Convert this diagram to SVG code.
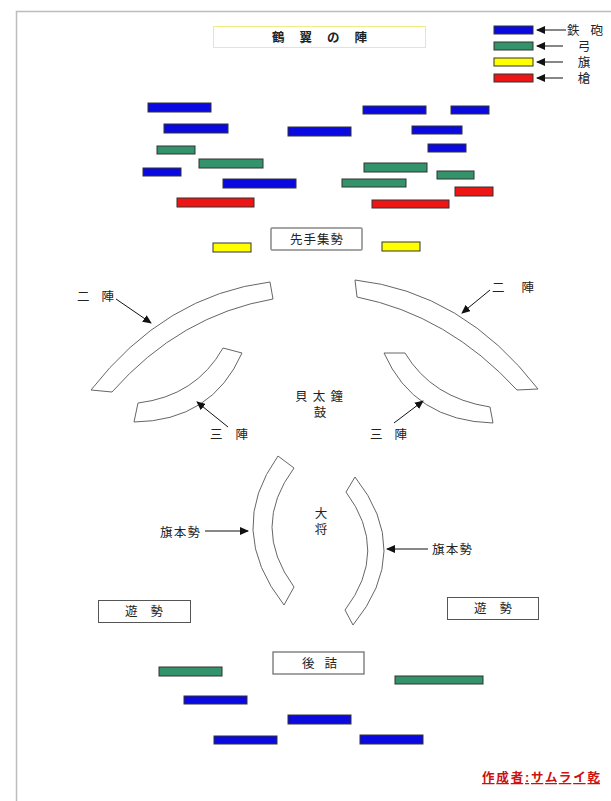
<svg xmlns="http://www.w3.org/2000/svg" width="611" height="801" viewBox="0 0 611 801">
<style>
text{font-family:"Liberation Sans","Noto Sans CJK JP",sans-serif;fill:#222;font-size:12.5px}
.bar{stroke:#333;stroke-width:1}
.b{fill:#0a0ae0}
.g{fill:#33936a}
.y{fill:#ffff00}
.r{fill:#ee1515}
.arc{fill:#fff;stroke:#666;stroke-width:1}
.box{fill:#fff;stroke:#555;stroke-width:1}
.conn line{stroke:#111;stroke-width:1;marker-end:url(#ah)}
.mid{text-anchor:middle}
</style>
<defs>
<marker id="ah" markerUnits="userSpaceOnUse" markerWidth="9" markerHeight="8" refX="8" refY="4" orient="auto">
<path d="M0,0 L9,4 L0,8 Z" fill="#111"/>
</marker>
</defs>
<rect width="611" height="801" fill="#fff"/>
<path d="M16.5,801 V11.5 H611" fill="none" stroke="#bdbdbd" stroke-width="1.5"/>

<g id="title">
<rect x="213.5" y="26.5" width="212" height="21" fill="#fff" stroke="#eeee80" stroke-width="1"/>
<text x="272" y="42" font-size="13" font-weight="bold" textLength="95" lengthAdjust="spacing">鶴 翼 の 陣</text>
</g>

<g id="legend">
<rect class="bar b" x="494" y="26" width="39" height="8"/>
<rect class="bar g" x="494" y="42" width="39" height="8"/>
<rect class="bar y" x="494" y="58" width="39" height="8"/>
<rect class="bar r" x="494" y="74" width="39" height="8"/>
<text x="567" y="34.5" font-size="12" textLength="36" lengthAdjust="spacing">鉄 砲</text>
<text x="584" y="50.5" class="mid" font-size="12">弓</text>
<text x="584" y="66.5" class="mid" font-size="12">旗</text>
<text x="584" y="83" class="mid" font-size="12">槍</text>
</g>

<g id="vanguard-bars">
<rect class="bar b" x="148" y="103" width="63" height="9"/>
<rect class="bar b" x="164" y="124" width="64" height="9"/>
<rect class="bar g" x="157" y="146" width="38" height="8"/>
<rect class="bar g" x="199" y="159" width="64" height="9"/>
<rect class="bar b" x="143" y="168" width="38" height="8"/>
<rect class="bar b" x="223" y="179" width="73" height="9"/>
<rect class="bar r" x="177" y="198" width="77" height="9"/>
<rect class="bar b" x="288" y="127" width="63" height="9"/>
<rect class="bar b" x="363" y="106" width="63" height="8"/>
<rect class="bar b" x="451" y="106" width="38" height="8"/>
<rect class="bar b" x="412" y="126" width="50" height="8"/>
<rect class="bar b" x="428" y="144" width="38" height="8"/>
<rect class="bar g" x="364" y="163" width="63" height="9"/>
<rect class="bar g" x="437" y="171" width="37" height="8"/>
<rect class="bar g" x="342" y="179" width="64" height="8"/>
<rect class="bar r" x="455" y="187" width="38" height="9"/>
<rect class="bar r" x="372" y="200" width="77" height="8"/>
<rect class="bar y" x="213" y="243" width="38" height="9"/>
<rect class="bar y" x="382" y="242" width="38" height="9"/>
</g>

<g id="sente">
<rect x="271" y="228" width="91" height="22" rx="1" fill="#fff" stroke="#888" stroke-width="1.5"/>
<text x="290" y="244" font-size="13" textLength="53" lengthAdjust="spacing">先手集勢</text>
</g>

<g id="nijin-left">
<path class="arc" d="M91,390 Q165,295 270,282 L273,299 Q180,315 112,392 Z"/>
<text x="77" y="301" textLength="37" lengthAdjust="spacing">二 陣</text>
</g>
<g id="nijin-right">
<path class="arc" d="M355,280 Q463,292 538,389 L517,390 Q448,315 357,297 Z"/>
<text x="492" y="292" textLength="42" lengthAdjust="spacing">二 陣</text>
</g>
<g id="sanjin-left">
<path class="arc" d="M134,422 Q212,421 242,353 L223,348 Q196,396 138,403 Z"/>
<text x="210" y="439" textLength="38" lengthAdjust="spacing">三 陣</text>
</g>
<g id="sanjin-right">
<path class="arc" d="M384,353 Q414,421 493,423 L490,407 Q432,398 405,353 Z"/>
<text x="370" y="439" textLength="37" lengthAdjust="spacing">三 陣</text>
</g>

<g id="kaitaiko">
<text x="295" y="401" textLength="48" lengthAdjust="spacing">貝 太 鐘</text>
<text x="320" y="416.5" class="mid">鼓</text>
</g>

<g id="hatamoto-left">
<path class="arc" d="M278,456 Q225,530 284,605 L294,587 Q250,527 294,468 Z"/>
<text x="160" y="537" textLength="40" lengthAdjust="spacing">旗本勢</text>
</g>
<g id="hatamoto-right">
<path class="arc" d="M355,477 Q414,551 353,625 L345,610 Q390,551 346,492 Z"/>
<text x="432" y="554" textLength="40" lengthAdjust="spacing">旗本勢</text>
</g>

<g id="taisho">
<text x="321" y="518" class="mid">大</text>
<text x="321" y="534" class="mid">将</text>
</g>

<g id="yuzei-left">
<rect class="box" x="98.5" y="600.5" width="92" height="22"/>
<text x="125" y="616" textLength="38" lengthAdjust="spacing">遊 勢</text>
</g>
<g id="yuzei-right">
<rect class="box" x="447.5" y="597.5" width="91" height="22"/>
<text x="474" y="613" textLength="38" lengthAdjust="spacing">遊 勢</text>
</g>

<g id="gozume">
<rect x="273" y="652" width="91" height="22" fill="#fff" stroke="#666" stroke-width="1.2"/>
<text x="302" y="668" textLength="35" lengthAdjust="spacing">後 詰</text>
</g>

<g id="rear-bars">
<rect class="bar g" x="159" y="667" width="63" height="9"/>
<rect class="bar g" x="395" y="676" width="88" height="8"/>
<rect class="bar b" x="184" y="696" width="63" height="8"/>
<rect class="bar b" x="288" y="715" width="63" height="9"/>
<rect class="bar b" x="214" y="736" width="63" height="8"/>
<rect class="bar b" x="360" y="735" width="63" height="9"/>
</g>

<g id="credit">
<text x="482" y="782" font-size="12.5" font-weight="bold" style="fill:#cc1111" text-decoration="underline" textLength="118" lengthAdjust="spacing">作成者:サムライ乾</text>
</g>

<g id="connectors" class="conn">
<line x1="566" y1="30" x2="537" y2="30"/>
<line x1="563" y1="46" x2="537" y2="46"/>
<line x1="563" y1="62" x2="537" y2="62"/>
<line x1="563" y1="78" x2="537" y2="78"/>
<line x1="116" y1="299" x2="151" y2="323"/>
<line x1="490" y1="290" x2="462" y2="313"/>
<line x1="228" y1="427" x2="197" y2="402"/>
<line x1="394" y1="423" x2="423" y2="401"/>
<line x1="205" y1="531" x2="248" y2="531"/>
<line x1="428" y1="549" x2="387" y2="549"/>
</g>
</svg>
